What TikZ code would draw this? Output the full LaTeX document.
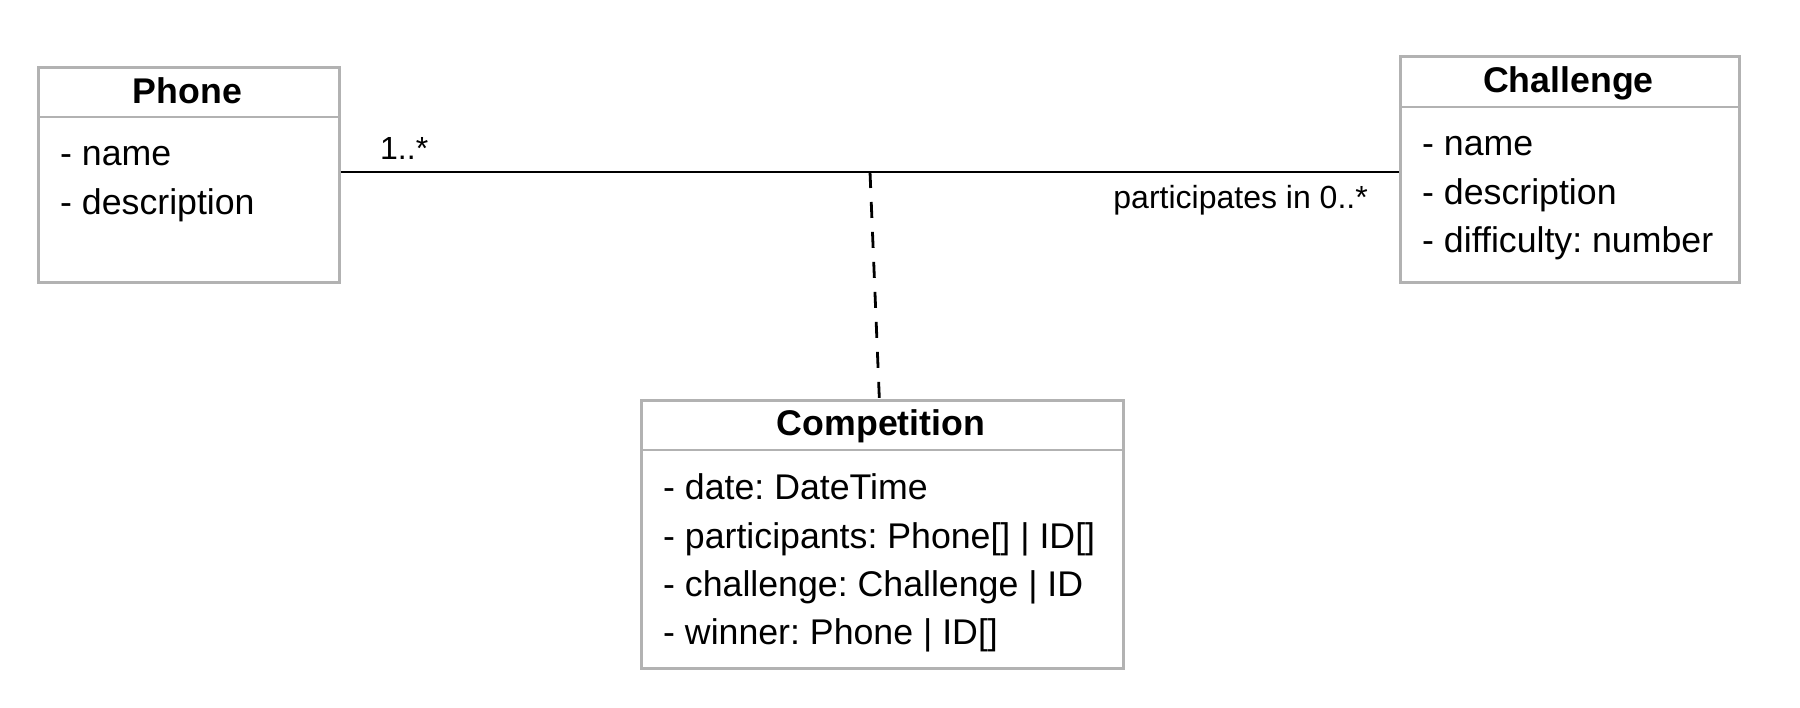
\documentclass[tikz,border=0pt]{standalone}
\usepackage{fontspec}
\setmainfont{Liberation Sans}
\frenchspacing
\begin{document}
\begin{tikzpicture}[x=1pt,y=-1pt,
  classbox/.style={draw={rgb,255:red,178;green,178;blue,178}, line width=2.7pt,
    rectangle, inner sep=0pt, anchor=north west},
  divider/.style={draw={rgb,255:red,178;green,178;blue,178}, line width=2.7pt},
  title/.style={font=\fontsize{35.7}{43.7}\selectfont\bfseries, inner sep=0pt, anchor=base},
  attr/.style={font=\fontsize{35.7}{43.7}\selectfont, inner sep=0pt, anchor=base west},
  mult/.style={font=\fontsize{32}{38}\selectfont, inner sep=0pt},
  assocline/.style={line width=2.8pt, black},
  classline/.style={line width=2.8pt, black, dash pattern=on 16pt off 14pt}]
\useasboundingbox (0,0) rectangle (1800,708);

% Phone class
\node[classbox, minimum width=301pt, minimum height=215pt] (phone) at (37,66) {};
\draw[divider] (phone.north west |- 0,117) -- (phone.north east |- 0,117);
\node[title] (phoneT) at (187.5,104) {Phone};
\node[attr] (phoneA1) at (60,166) {- name};
\node[attr] (phoneA2) at (60,214.2) {- description};

% Challenge class
\node[classbox, minimum width=339pt, minimum height=226pt] (chal) at (1399,55) {};
\draw[divider] (chal.north west |- 0,107) -- (chal.north east |- 0,107);
\node[title] (chalT) at (1568.5,93) {Challenge};
\node[attr] (chalA1) at (1422,156) {- name};
\node[attr] (chalA2) at (1422,204.2) {- description};
\node[attr] (chalA3) at (1422,252.4) {- difficulty: number};

% Competition association class
\node[classbox, minimum width=482pt, minimum height=268pt] (comp) at (640,399) {};
\draw[divider] (comp.north west |- 0,450) -- (comp.north east |- 0,450);
\node[title] (compT) at (881,436) {Competition};
\node[attr] (compA1) at (663,500) {- date: DateTime};
\node[attr] (compA2) at (663,548.2) {- participants: Phone[] | ID[]};
\node[attr] (compA3) at (663,596.4) {- challenge: Challenge | ID};
\node[attr] (compA4) at (663,644.6) {- winner: Phone | ID[]};

% Association and its class link
\coordinate (assoc) at (870,172);
\draw[assocline] (phone.east |- assoc) -- (chal.west |- assoc);
\draw[classline] (assoc) -- ([xshift=-3pt]comp.north);

% Multiplicities
\node[mult, anchor=base west] (m1) at (380,160) {1..*};
\node[mult, anchor=base east] (m2) at (1368,209) {participates in 0..*};
\end{tikzpicture}
\end{document}
